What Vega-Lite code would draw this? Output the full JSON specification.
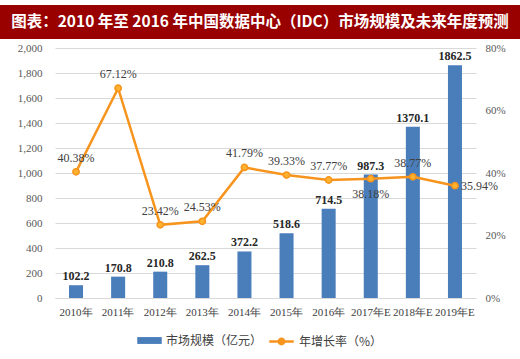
{
  "$schema": "https://vega.github.io/schema/vega-lite/v6.json",
  "padding": {"top": 5, "left": 0, "right": 0, "bottom": 0},
  "spacing": 3,
  "background": "white",
  "config": {"view": {"stroke": null}, "font": "Times New Roman, Liberation Serif, serif"},
  "datasets": {
    "main": [
      {"year": "2010年", "size": 102.2, "rate": 0.4038},
      {"year": "2011年", "size": 170.8, "rate": 0.6712},
      {"year": "2012年", "size": 210.8, "rate": 0.2342},
      {"year": "2013年", "size": 262.5, "rate": 0.2453},
      {"year": "2014年", "size": 372.2, "rate": 0.4179},
      {"year": "2015年", "size": 518.6, "rate": 0.3933},
      {"year": "2016年", "size": 714.5, "rate": 0.3777},
      {"year": "2017年E", "size": 987.3, "rate": 0.3818},
      {"year": "2018年E", "size": 1370.1, "rate": 0.3877},
      {"year": "2019年E", "size": 1862.5, "rate": 0.3594}
    ],
    "header": [{"t": "图表：2010 年至 2016 年中国数据中心（IDC）市场规模及未来年度预测"}],
    "none": []
  },
  "vconcat": [
    {
      "width": 520,
      "height": 34,
      "view": {"fill": "#990000", "stroke": null},
      "data": {"name": "header"},
      "mark": {"type": "text", "color": "white", "font": "Noto Sans CJK SC", "fontSize": 15.5, "fontWeight": "bold", "align": "center", "baseline": "middle"},
      "encoding": {"text": {"field": "t"}}
    },
    {
      "spacing": 0,
      "hconcat": [
        {
          "width": 1,
          "height": 250,
          "data": {"name": "none"},
          "mark": {"type": "point"},
          "encoding": {}
        },
        {
          "width": 421,
          "height": 250,
          "data": {"name": "main"},
          "resolve": {"scale": {"y": "independent", "color": "independent"}},
          "encoding": {
            "x": {
              "field": "year", "type": "nominal", "sort": null,
              "scale": {"paddingInner": 0.667, "paddingOuter": 0.333},
              "axis": {"title": null, "labelAngle": 0, "ticks": false, "domainColor": "#d9d9d9", "labelColor": "#404040", "labelFontSize": 11, "labelPadding": 8, "labelFont": "Times New Roman, Liberation Serif, serif"}
            }
          },
          "layer": [
            {
              "mark": {"type": "bar", "color": "#4a7ebb"},
              "encoding": {
                "y": {"field": "size", "type": "quantitative", "scale": {"domain": [0, 2000]},
                  "axis": {"title": null, "values": [0,200,400,600,800,1000,1200,1400,1600,1800,2000], "format": ",.0f", "domain": false, "ticks": false, "gridColor": "#d9d9d9", "labelColor": "#595959", "labelFontSize": 11, "labelPadding": 13, "minExtent": 54, "labelFont": "Times New Roman, Liberation Serif, serif"}},
                "color": {"datum": "市场规模（亿元）", "type": "nominal", "scale": {"range": ["#4a7ebb"]},
                  "legend": {"title": null, "orient": "none", "legendX": 82, "legendY": 280, "symbolType": "M-1,-0.28H1V0.28H-1Z", "symbolSize": 600, "labelFont": "Noto Sans CJK SC", "labelFontSize": 12, "labelColor": "#404040", "symbolStrokeWidth": 0}}
              }
            },
            {
              "mark": {"type": "text", "dy": -9, "fontWeight": "bold", "fontSize": 12, "color": "#262626", "font": "Times New Roman, Liberation Serif, serif"},
              "encoding": {
                "y": {"field": "size", "type": "quantitative", "scale": {"domain": [0, 2000]}, "axis": null},
                "text": {"field": "size", "type": "quantitative", "format": ".1f"}
              }
            },
            {
              "layer": [
                {
                  "mark": {"type": "line", "color": "#f7941d", "strokeWidth": 2.5},
                  "encoding": {
                    "y": {"field": "rate", "type": "quantitative", "scale": {"domain": [0, 0.8]},
                      "axis": {"title": null, "orient": "right", "values": [0,0.1,0.2,0.3,0.4,0.5,0.6,0.7,0.8], "format": ".0%", "domain": false, "ticks": false, "grid": false, "labelColor": "#595959", "labelFontSize": 11, "labelPadding": 9, "labelFont": "Times New Roman, Liberation Serif, serif"}},
                    "stroke": {"datum": "年增长率（%）", "type": "nominal", "scale": {"range": ["#f7941d"]},
                      "legend": {"title": null, "orient": "none", "legendX": 268, "legendY": 323, "symbolType": "M-1,0H1M0.22,0A0.22,0.22 0 1,1 -0.22,0A0.22,0.22 0 1,1 0.22,0Z", "symbolSize": 600, "symbolStrokeWidth": 2.5, "symbolFillColor": "#ffb22e", "labelFont": "Noto Sans CJK SC", "labelFontSize": 12, "labelColor": "#404040"}}
                  }
                },
                {
                  "mark": {"type": "point", "filled": true, "fill": "#ffb22e", "stroke": "#f7941d", "strokeWidth": 1.5, "size": 40, "opacity": 1},
                  "encoding": {"y": {"field": "rate", "type": "quantitative", "scale": {"domain": [0, 0.8]}}}
                },
                {
                  "transform": [{"filter": "datum.year != '2017年E' && datum.year != '2019年E'"}],
                  "mark": {"type": "text", "dy": -14, "fontSize": 12, "color": "#404040", "font": "Times New Roman, Liberation Serif, serif"},
                  "encoding": {
                    "y": {"field": "rate", "type": "quantitative", "scale": {"domain": [0, 0.8]}},
                    "text": {"field": "rate", "type": "quantitative", "format": ".2%"}
                  }
                },
                {
                  "transform": [{"filter": "datum.year == '2017年E'"}],
                  "mark": {"type": "text", "dy": 15, "fontSize": 12, "color": "#404040", "font": "Times New Roman, Liberation Serif, serif"},
                  "encoding": {
                    "y": {"field": "rate", "type": "quantitative", "scale": {"domain": [0, 0.8]}},
                    "text": {"field": "rate", "type": "quantitative", "format": ".2%"}
                  }
                },
                {
                  "transform": [{"filter": "datum.year == '2019年E'"}],
                  "mark": {"type": "text", "dx": 6, "align": "left", "fontSize": 12, "color": "#404040", "font": "Times New Roman, Liberation Serif, serif"},
                  "encoding": {
                    "y": {"field": "rate", "type": "quantitative", "scale": {"domain": [0, 0.8]}},
                    "text": {"field": "rate", "type": "quantitative", "format": ".2%"}
                  }
                }
              ]
            }
          ]
        }
      ]
    }
  ]
}
